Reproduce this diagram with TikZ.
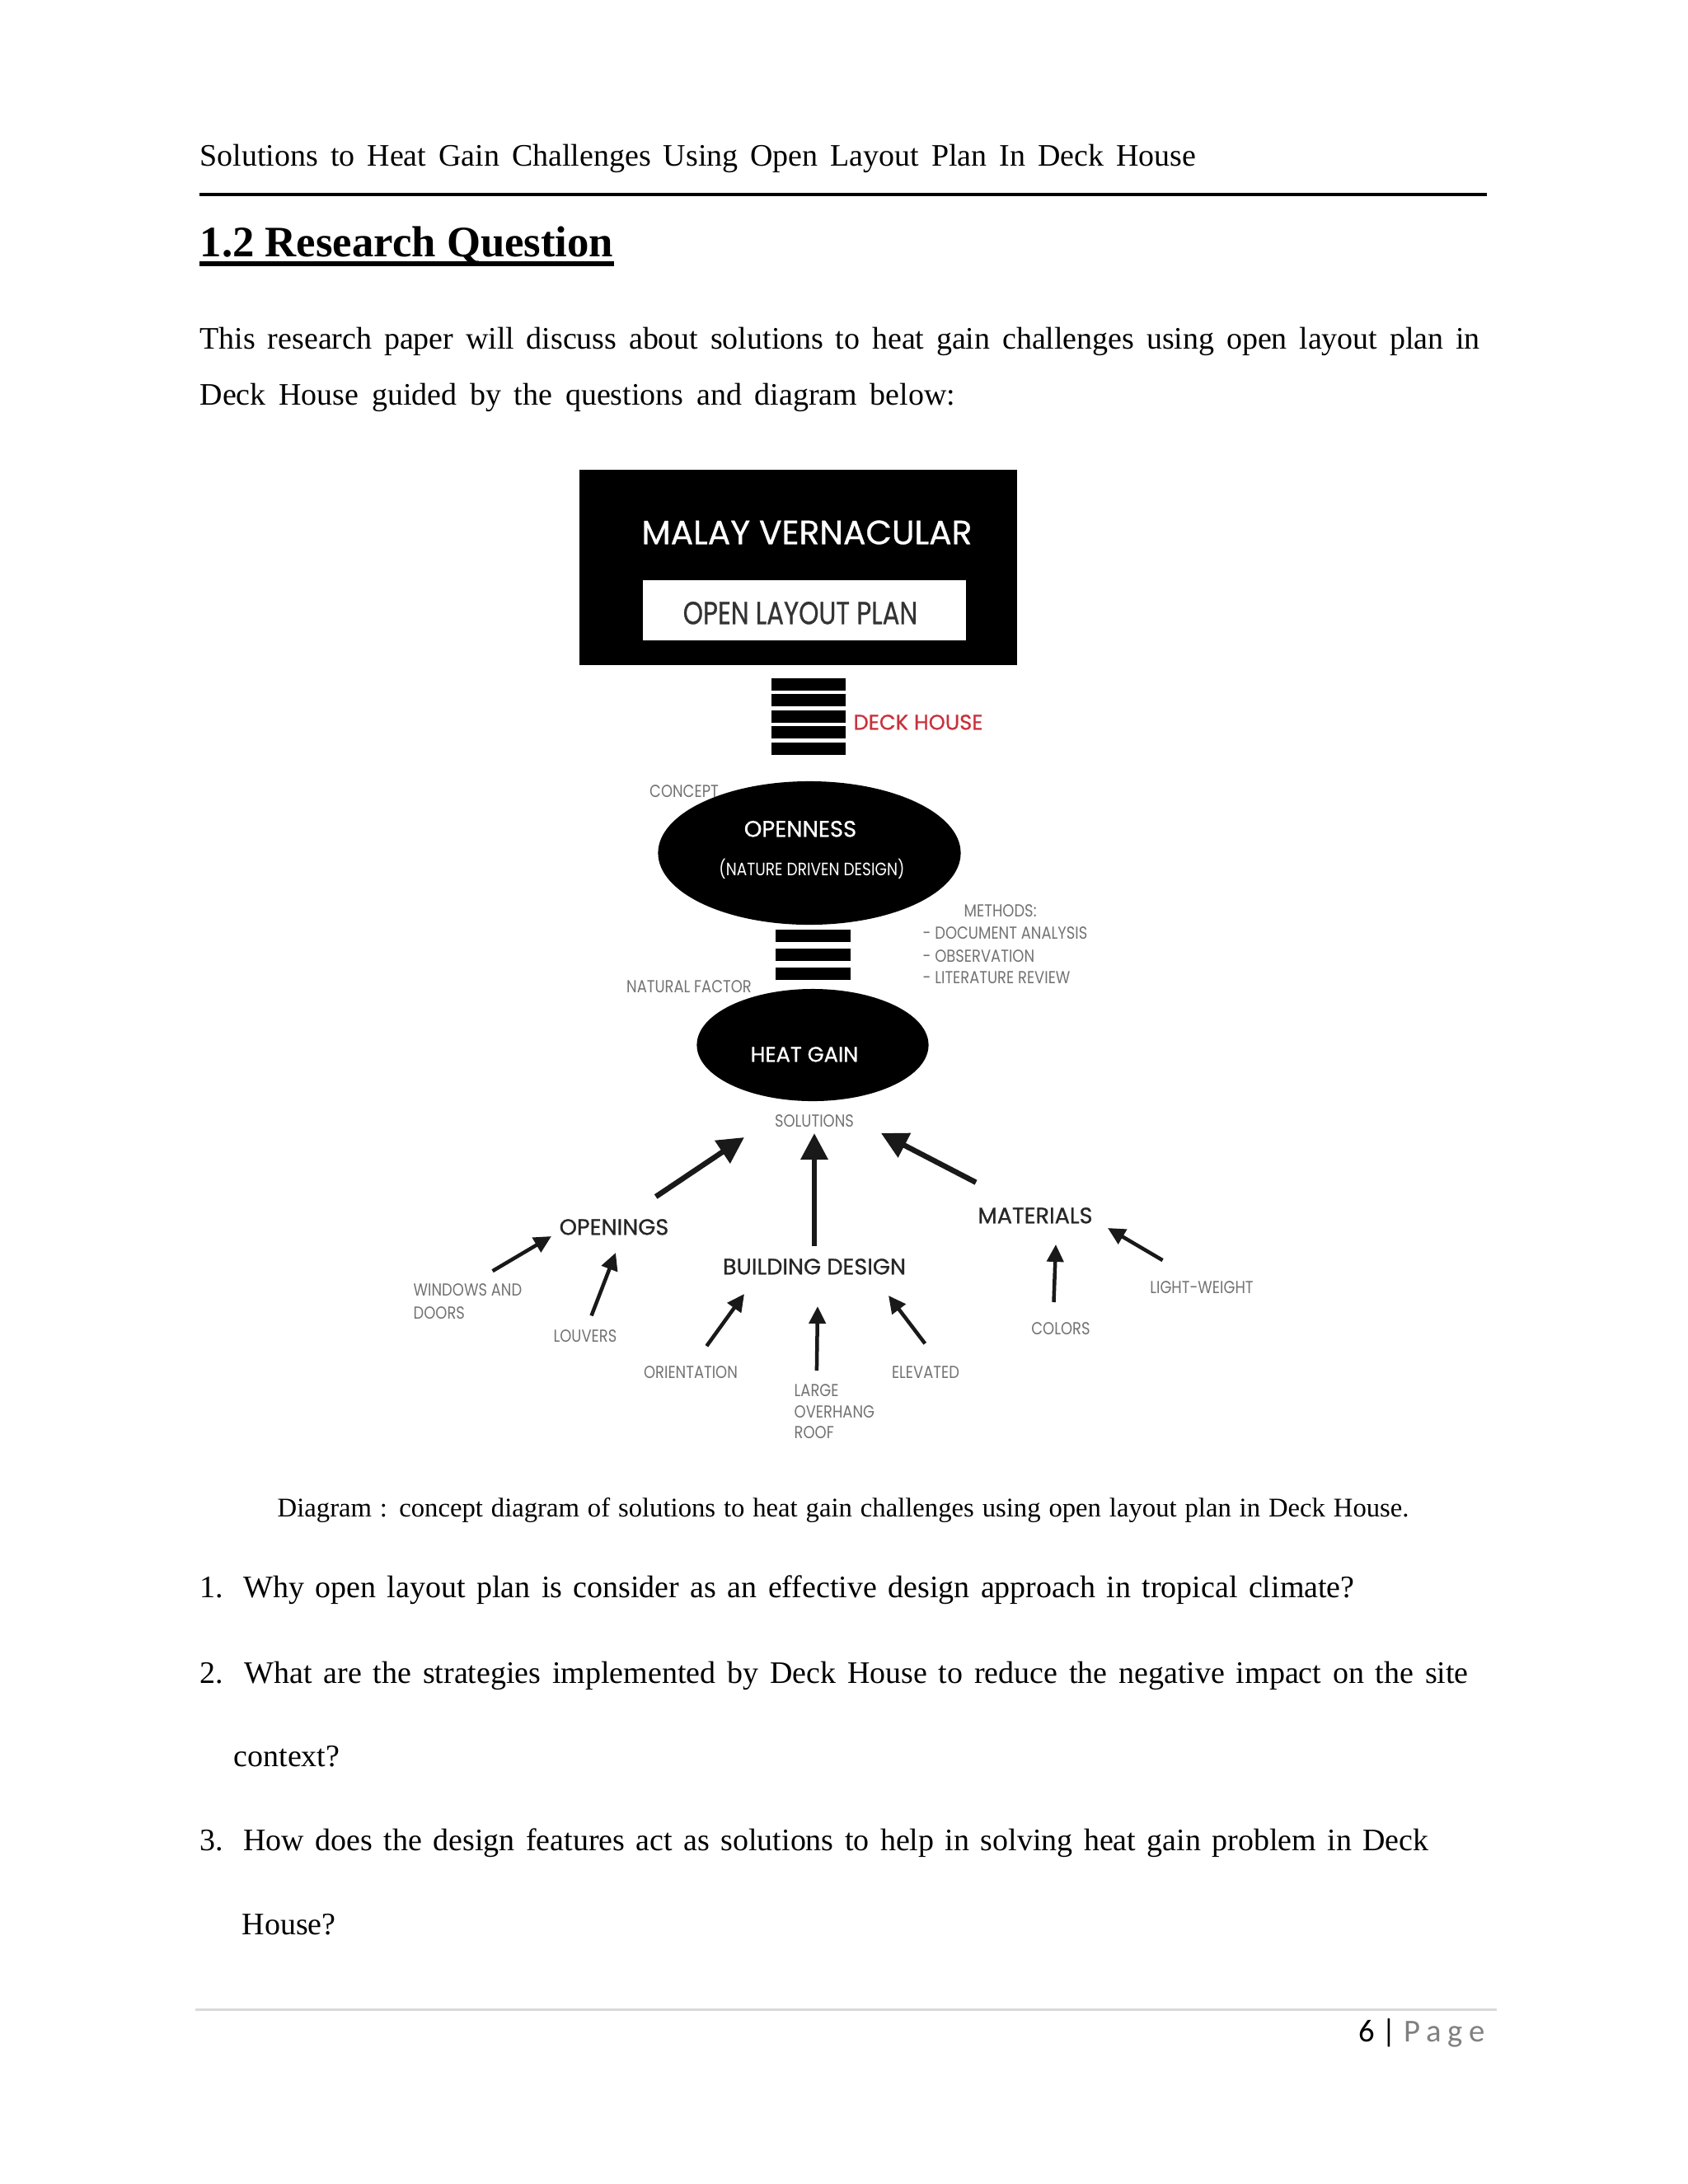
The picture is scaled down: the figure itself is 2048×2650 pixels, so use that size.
\documentclass[tikz,border=0pt]{standalone}
\usepackage{fontspec}
\setmainfont{Liberation Serif}
\newfontfamily\dgfont[FakeBold=0.8]{Poppins}
\newfontfamily\dgcond[FakeStretch=0.8,FakeBold=0.6]{Poppins}
\newfontfamily\dgthin[FakeStretch=0.85]{Poppins}
\newfontfamily\pgfont{Carlito}
\usetikzlibrary{arrows.meta,shapes.geometric}
\definecolor{deckred}{HTML}{C8323C}
\tikzset{
    % arrows toward solutions
    pil/.style={-{Triangle[length=0.32cm,width=0.32cm]}, line width=0.065cm, draw=black!90},
    % small arrows toward the three groups
    spil/.style={-{Triangle[length=0.21cm,width=0.2cm]}, line width=0.045cm, draw=black!90},
    % page text
    txt/.style={anchor=base west, inner sep=0pt, font=\fontsize{10.8}{13}\selectfont},
    % diagram labels, centred on the capitals
    capsbox/.style={inner sep=0pt, text height=0.7em, text depth=0pt},
    big/.style={capsbox, text=black!85, font=\dgfont\fontsize{7.7}{9}\selectfont},
    sml/.style={capsbox, text=black!55, font=\dgthin\fontsize{6}{7}\selectfont}
}
\begin{document}
\begin{tikzpicture}[x=0.01cm,y=-0.01cm]
\fill[white] (0,0) rectangle (2048,2650);
\useasboundingbox (0,0) rectangle (2048,2650);

% header and title
\node[txt] (hdr) at (242,201) {\makebox[12.08cm][s]{Solutions to Heat Gain Challenges Using Open Layout Plan In Deck House}};
\draw[line width=0.035cm] (242,236) -- (1804,236);
\node[txt, font=\bfseries\fontsize{15}{18}\selectfont] (ttl) at (242,311) {1.2 Research Question};
\draw[line width=0.055cm] ([yshift=-0.09cm]ttl.base west) -- ([yshift=-0.09cm]ttl.base east);

\node[txt] (par1) at (242,423) {\makebox[15.52cm][s]{This research paper will discuss about solutions to heat gain challenges using open layout plan in}};
\node[txt] (par2) at (242,491) {\makebox[9.16cm][s]{Deck House guided by the questions and diagram below:}};

% top block
\node[fill=black, minimum width=5.31cm, minimum height=2.37cm, inner sep=0pt] (mv) at (968.5,688.5) {};
\node[fill=white, minimum width=3.92cm, minimum height=0.73cm, inner sep=0pt] (olp) at (976,740.5) {};
\node[capsbox, text=white, font=\dgfont\fontsize{11.6}{13}\selectfont] (mvt) at (979,648) {MALAY VERNACULAR};
\node[capsbox, text=black!80, font=\dgcond\fontsize{11}{12}\selectfont] (olpt) at (971,745) {OPEN LAYOUT PLAN};

% deck bars
\foreach \i in {0,...,4}
    \fill (936,823+19.4*\i) rectangle (1026,838+19.4*\i);
\node[capsbox, text=deckred, font=\dgfont\fontsize{7.3}{9}\selectfont] (deck) at (1114,873) {DECK HOUSE};

% openness
\node[sml] (cpt) at (830,955) {CONCEPT};
\node[ellipse, fill=black, minimum width=3.67cm, minimum height=1.74cm, inner sep=0pt] (opn) at (982,1035) {};
\node[capsbox, text=white, font=\dgfont\fontsize{7.8}{9}\selectfont] (opnt) at (971,1003) {OPENNESS};
\node[capsbox, text=white, font=\dgthin\fontsize{6.2}{8}\selectfont] (ndd) at (985,1050) {(NATURE DRIVEN DESIGN)};

\node[sml, anchor=west] (mth) at (1169,1100) {METHODS:};
\node[sml, anchor=west] (m1) at (1119,1127) {- DOCUMENT ANALYSIS};
\node[sml, anchor=west] (m2) at (1119,1155) {- OBSERVATION};
\node[sml, anchor=west] (m3) at (1119,1181) {- LITERATURE REVIEW};

\foreach \i in {0,1,2}
    \fill (941,1128+23*\i) rectangle (1032,1143+23*\i);
\node[sml] (nf) at (836,1192) {NATURAL FACTOR};

% heat gain
\node[ellipse, fill=black, minimum width=2.81cm, minimum height=1.36cm, inner sep=0pt] (heat) at (986,1268) {};
\node[capsbox, text=white, font=\dgfont\fontsize{7.3}{9}\selectfont] (heatt) at (976,1276) {HEAT GAIN};
\node[sml] (sol) at (988,1355) {SOLUTIONS};

% groups
\node[big] (opg) at (745,1486) {OPENINGS};
\node[big] (bd) at (988,1534) {BUILDING DESIGN};
\node[big] (mat) at (1256,1472) {MATERIALS};

\node[sml, anchor=west] (win1) at (501,1560) {WINDOWS AND};
\node[sml, anchor=west] (win2) at (501,1588) {DOORS};
\node[sml] (lvr) at (710,1616) {LOUVERS};
\node[sml] (ori) at (838,1660) {ORIENTATION};
\node[sml, anchor=west] (lrg) at (963,1682) {LARGE};
\node[sml, anchor=west] (ovh) at (963,1708) {OVERHANG};
\node[sml, anchor=west] (rf) at (963,1733) {ROOF};
\node[sml] (elv) at (1123,1660) {ELEVATED};
\node[sml] (col) at (1287,1607) {COLORS};
\node[sml] (lw) at (1458,1557) {LIGHT-WEIGHT};

% arrow tips
\coordinate (t1) at (903,1380);
\coordinate (t2) at (988,1375);
\coordinate (t3) at (1069,1375);
\coordinate (t4) at (669,1500);
\coordinate (t5) at (747,1520);
\coordinate (t6) at (903,1570);
\coordinate (t7) at (992,1585);
\coordinate (t8) at (1078,1572);
\coordinate (t9) at (1281,1510);
\coordinate (t10) at (1344,1490);

\draw[pil, shorten <=0.61cm] (opg.center) -- (t1);
\draw[pil, shorten <=0.22cm] (bd.center) -- (t2);
\draw[pil, shorten <=0.81cm] (mat.center) -- (t3);

\draw[spil, shorten <=0.35cm] (win1.center) -- (t4);
\draw[spil, shorten <=0.21cm] (lvr.center) -- (t5);
\draw[spil, shorten <=0.33cm] (ori.center) -- (t6);
\draw[spil, shorten <=0.19cm] (lrg.center) -- (t7);
\draw[spil, shorten <=0.21cm] ([xshift=0.12cm]elv.north) -- (t8);
\draw[spil, shorten <=0.14cm] ([xshift=-0.09cm]col.north) -- (t9);
\draw[spil, shorten <=0.55cm] (lw.center) -- (t10);

% caption and questions
\node[txt, font=\fontsize{9.3}{11}\selectfont] (capt) at (336,1840) {\makebox[13.72cm][s]{Diagram : concept diagram of solutions to heat gain challenges using open layout plan in Deck House.}};

\node[txt] (q1) at (242,1938) {\makebox[14.0cm][s]{1. Why open layout plan is consider as an effective design approach in tropical climate?}};
\node[txt] (q2) at (242,2042) {\makebox[15.38cm][s]{2. What are the strategies implemented by Deck House to reduce the negative impact on the site}};
\node[txt] (q2b) at (283,2143) {context?};
\node[txt] (q3) at (242,2245) {\makebox[14.9cm][s]{3. How does the design features act as solutions to help in solving heat gain problem in Deck}};
\node[txt] (q3b) at (293,2347) {House?};

% footer
\draw[line width=0.03cm, black!15] (237,2438) -- (1816,2438);
\node[anchor=base east, inner sep=0pt, font=\pgfont\fontsize{11}{13}\selectfont] (pg) at (1802,2477) {6 | \textcolor{black!50}{\addfontfeatures{LetterSpace=20}Page}};
\end{tikzpicture}
\end{document}
